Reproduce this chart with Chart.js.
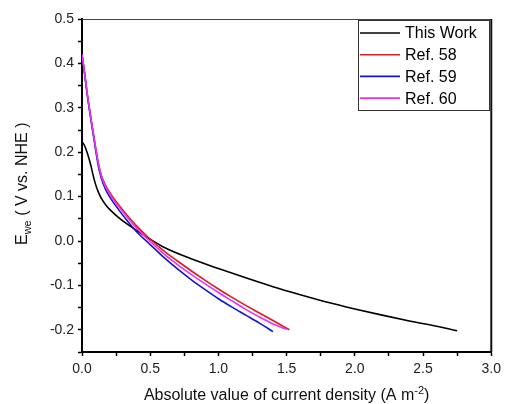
<!DOCTYPE html>
<html>
<head>
<meta charset="utf-8">
<script src="https://cdn.jsdelivr.net/npm/chart.js@4"></script>
<style>
  html, body { margin: 0; padding: 0; background: #fff; }
  #wrap { width: 506px; height: 404px; }
</style>
</head>
<body>
<div id="wrap"><canvas id="ivChart" width="506" height="404"></canvas></div>
<script>
// current density (A m-2) and E_we (V vs. NHE)
const thisWorkX = [0, 0.02, 0.04, 0.065, 0.08, 0.10, 0.12, 0.14, 0.17, 0.21, 0.28, 0.38, 0.50, 0.60, 0.80, 1.00, 1.20, 1.40, 1.60, 1.80, 2.00, 2.20, 2.40, 2.60, 2.75];
const thisWorkY = [0.224, 0.214, 0.197, 0.170, 0.150, 0.127, 0.110, 0.097, 0.083, 0.069, 0.050, 0.028, 0.004, -0.014, -0.040, -0.062, -0.083, -0.103, -0.121, -0.138, -0.153, -0.167, -0.180, -0.192, -0.202];

const ref58X = [0, 0.02, 0.04, 0.06, 0.08, 0.10, 0.12, 0.14, 0.17, 0.21, 0.26, 0.33, 0.40, 0.50, 0.60, 0.70, 0.80, 0.90, 1.00, 1.10, 1.20, 1.30, 1.40, 1.52];
const ref58Y = [0.420, 0.376, 0.328, 0.287, 0.248, 0.210, 0.175, 0.150, 0.127, 0.106, 0.085, 0.058, 0.034, 0.004, -0.022, -0.045, -0.067, -0.088, -0.108, -0.127, -0.145, -0.162, -0.179, -0.200];

const ref59X = [0, 0.02, 0.04, 0.06, 0.08, 0.10, 0.12, 0.14, 0.17, 0.21, 0.26, 0.33, 0.40, 0.50, 0.60, 0.70, 0.80, 0.90, 1.00, 1.10, 1.20, 1.30, 1.40];
const ref59Y = [0.420, 0.374, 0.326, 0.284, 0.244, 0.205, 0.168, 0.143, 0.118, 0.096, 0.074, 0.046, 0.021, -0.008, -0.037, -0.063, -0.087, -0.109, -0.130, -0.149, -0.167, -0.185, -0.204];

const ref60X = [0, 0.02, 0.04, 0.06, 0.08, 0.10, 0.12, 0.14, 0.17, 0.21, 0.26, 0.33, 0.40, 0.50, 0.60, 0.70, 0.80, 0.90, 1.00, 1.10, 1.20, 1.30, 1.40, 1.50];
const ref60Y = [0.420, 0.376, 0.328, 0.287, 0.248, 0.210, 0.174, 0.148, 0.124, 0.102, 0.081, 0.054, 0.029, -0.001, -0.029, -0.053, -0.075, -0.096, -0.116, -0.135, -0.154, -0.171, -0.187, -0.199];

const seriesNames = ['This Work', 'Ref. 58', 'Ref. 59', 'Ref. 60'];
const seriesColors = ['#000000', '#d42020', '#1515c8', '#ee30ee'];

const xTicks = { min: 0, max: 3, step: 0.25 };
const yTicks = { min: -0.25, max: 0.5, step: 0.05 };

function pts(xs, ys) { return xs.map((x, i) => ({ x, y: ys[i] })); }
function isMajor(v, step) { return Math.abs(Math.round(v / step)) % 2 === 0; }

const FONT = 'Arial, "Liberation Sans", sans-serif';

// frame, axis titles (with sub/superscripts) and the legend box
const decor = {
  id: 'decor',
  afterDraw(chart) {
    const { ctx, chartArea: a } = chart;
    ctx.save();
    // top + right border
    ctx.strokeStyle = '#444'; ctx.lineWidth = 1;
    ctx.beginPath(); ctx.moveTo(a.left, a.top + 0.5); ctx.lineTo(a.right, a.top + 0.5); ctx.stroke();
    ctx.strokeStyle = '#111'; ctx.lineWidth = 2;
    ctx.beginPath(); ctx.moveTo(a.right, a.top); ctx.lineTo(a.right, a.bottom); ctx.stroke();

    ctx.fillStyle = '#111';
    ctx.textBaseline = 'alphabetic';

    // x title
    const big = '16px ' + FONT, sup = '11px ' + FONT;
    const t1 = 'Absolute value of current density (A m', t2 = '-2', t3 = ')';
    ctx.font = big; const w1 = ctx.measureText(t1).width, w3 = ctx.measureText(t3).width;
    ctx.font = sup; const w2 = ctx.measureText(t2).width;
    let x = (a.left + a.right) / 2 - (w1 + w2 + w3) / 2;
    const by = 400;
    ctx.textAlign = 'left';
    ctx.font = big; ctx.fillText(t1, x, by); x += w1;
    ctx.font = sup; ctx.fillText(t2, x, by - 6); x += w2;
    ctx.font = big; ctx.fillText(t3, x, by);

    // y title, rotated
    ctx.translate(27, 245);
    ctx.rotate(-Math.PI / 2);
    const yb = '16px ' + FONT, ys = '11px ' + FONT;
    let yx = 0;
    ctx.font = yb; ctx.fillText('E', 0, 0); yx += ctx.measureText('E').width;
    ctx.font = ys; ctx.fillText('we', yx, 4); yx += ctx.measureText('we').width;
    ctx.font = yb; ctx.fillText(' ( V vs. NHE )', yx, 0);
    ctx.restore();

    // legend
    ctx.save();
    ctx.strokeStyle = '#333'; ctx.lineWidth = 1;
    ctx.strokeRect(358.5, 20.5, 131, 90);
    ctx.font = '16px ' + FONT;
    ctx.textAlign = 'left'; ctx.textBaseline = 'middle'; ctx.fillStyle = '#000';
    seriesNames.forEach((name, i) => {
      const cy = 33 + i * 21.7;
      ctx.strokeStyle = seriesColors[i]; ctx.lineWidth = 1.6;
      ctx.beginPath(); ctx.moveTo(360, cy); ctx.lineTo(400, cy); ctx.stroke();
      ctx.fillText(name, 405, cy + 1);
    });
    ctx.restore();
  }
};

const allX = [thisWorkX, ref58X, ref59X, ref60X];
const allY = [thisWorkY, ref58Y, ref59Y, ref60Y];
const drawOrder = [3, 2, 1, 0];

new Chart(document.getElementById('ivChart'), {
  type: 'line',
  data: {
    datasets: seriesNames.map((name, i) => ({
      label: name,
      data: pts(allX[i], allY[i]),
      borderColor: seriesColors[i],
      borderWidth: 1.6,
      pointRadius: 0,
      fill: false,
      cubicInterpolationMode: 'monotone',
      order: drawOrder[i]
    }))
  },
  options: {
    responsive: false,
    animation: false,
    layout: { padding: { top: 19, right: 11, left: 0, bottom: 0 } },
    plugins: { legend: { display: false }, tooltip: { enabled: false } },
    scales: {
      x: {
        type: 'linear', min: xTicks.min, max: xTicks.max,
        afterFit(s) { s.height = 52; },
        border: { display: true, color: '#000', width: 2 },
        grid: { drawOnChartArea: false, drawTicks: true, tickLength: 4, tickColor: '#000', tickWidth: 1.5 },
        ticks: {
          stepSize: xTicks.step, padding: 5, color: '#222', font: { family: FONT, size: 14 },
          maxRotation: 0, autoSkip: false,
          callback: v => isMajor(v, xTicks.step) ? Number(v).toFixed(1) : ''
        }
      },
      y: {
        type: 'linear', min: yTicks.min, max: yTicks.max,
        afterFit(s) { s.width = 82; },
        border: { display: true, color: '#000', width: 2 },
        grid: { drawOnChartArea: false, drawTicks: true, tickLength: 4, tickColor: '#000', tickWidth: 1.5 },
        ticks: {
          stepSize: yTicks.step, padding: 4, color: '#222', font: { family: FONT, size: 14 },
          autoSkip: false,
          callback: v => {
            if (!isMajor(v, yTicks.step)) return '';
            const r = Math.round(v * 10) / 10;
            return (r === 0 ? 0 : r).toFixed(1);
          }
        }
      }
    }
  },
  plugins: [decor]
});
</script>
</body>
</html>
